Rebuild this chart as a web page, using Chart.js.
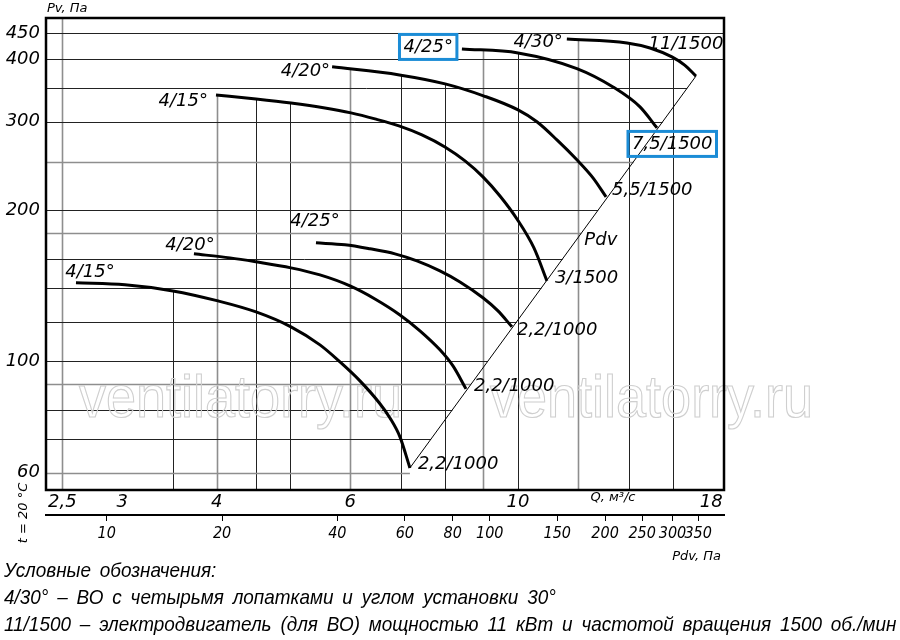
<!DOCTYPE html>
<html>
<head>
<meta charset="utf-8">
<script src="https://cdn.jsdelivr.net/npm/chart.js@4.4.1/dist/chart.umd.min.js"></script>
<style>
  body { margin: 0; background: #fff; }
  #wrap { position: relative; width: 900px; height: 566px; }
  .notes {
    margin-top: -10px;
    font-family: "Liberation Sans", sans-serif;
    font-style: italic;
    font-size: 21px;
    line-height: 27px;
    word-spacing: 4px;
    padding-left: 4px;
    color: #000;
    white-space: nowrap;
  }
  .notes div { transform: scaleX(0.9); transform-origin: 0 0; }
</style>
</head>
<body>
<div id="wrap"><canvas id="fan"></canvas></div>
<div class="notes">
  <div>Условные обозначения:</div>
  <div>4/30° – ВО с четырьмя лопатками и углом установки 30°</div>
  <div>11/1500 – электродвигатель (для ВО) мощностью 11 кВт и частотой вращения 1500 об./мин</div>
</div>
<script>
// axis ticks
const qTicks = [2.5, 3, 4, 6, 10, 18];
const pvTicks = [60, 100, 200, 300, 400, 450];
const pdvTicks = [10, 20, 40, 60, 80, 100, 150, 200, 250, 300, 350];
const qGrid = [2.5, 3.5, 4, 4.5, 5, 6, 7, 8, 9, 10, 12, 14, 16];
const pvGrid = [60, 70, 80, 90, 100, 120, 140, 160, 180, 200, 250, 300, 350, 400, 450];

// fan curves, Q (m3/s) -> Pv (Pa)
const q15Low = [2.606, 3.025, 3.50, 4.014, 4.507, 5.012, 5.474, 5.818, 6.182, 6.570, 6.773, 6.982, 7.197];
const pv15Low = [143.3, 142.0, 138.1, 131.9, 125.4, 117.1, 107.8, 99.7, 91.4, 82.3, 77.1, 70.7, 61.3];
const q20Low = [3.731, 4.164, 4.507, 5.012, 5.474, 5.998, 6.471, 6.982, 7.420, 7.885, 8.204, 8.535];
const pv20Low = [163.7, 160.7, 157.8, 153.5, 148.6, 141.3, 133.1, 123.7, 115.0, 105.4, 97.9, 88.1];
const q25Low = [5.408, 5.907, 6.373, 6.877, 7.352, 7.885, 8.381, 8.987, 9.408, 9.816];
const pv25Low = [172.2, 170.6, 167.5, 163.7, 158.5, 151.4, 143.9, 133.8, 126.0, 117.1];
const q15High = [3.990, 4.507, 5.012, 5.558, 6.016, 6.471, 6.961, 7.465, 8.006, 8.510, 8.987, 9.465, 9.967, 10.495, 10.918];
const pv15High = [339.3, 333.2, 327.1, 319.7, 312.5, 304.0, 294.4, 282.5, 267.3, 250.7, 233.0, 213.5, 192.1, 168.2, 144.6];
const q20High = [5.68, 6.97, 8.01, 9.0, 10.0, 10.59, 11.256, 11.96, 12.56, 13.07];
const pv20High = [386, 372, 357, 338, 316.8, 300, 276.1, 252, 232, 212.6];
const q25High = [8.43, 10.0, 11.96, 13.35, 14.49, 15.26];
const pv25High = [419.1, 411.5, 383, 352, 321.3, 291.7];
const q30High = [11.60, 13.93, 14.94, 15.97, 16.6, 17.18];
const pv30High = [438.7, 430.8, 421, 404, 389, 370];

// dynamic pressure line
const qPdv = [7.197, 17.18];
const pvPdv = [61.3, 370];

const bladeNames = ['4/15°', '4/20°', '4/25°', '4/15°', '4/20°', '4/25°', '4/30°'];
const motorNames = ['2,2/1000', '2,2/1000', '2,2/1000', '3/1500', '5,5/1500', '7,5/1500', '11/1500'];

const curves = [
  { q: q15Low, pv: pv15Low },
  { q: q20Low, pv: pv20Low },
  { q: q25Low, pv: pv25Low },
  { q: q15High, pv: pv15High },
  { q: q20High, pv: pv20High },
  { q: q25High, pv: pv25High },
  { q: q30High, pv: pv30High }
];

// label placement (pixel offsets from curve ends)
const startLayout = [
  { dx: 14, dy: -11, align: 'center' },
  { dx: -4, dy: -9, align: 'center' },
  { dx: -1, dy: -21, align: 'center' },
  { dx: -8, dy: 6, align: 'right' },
  { dx: -2, dy: 4, align: 'right' },
  { dx: -9, dy: -2, align: 'right', box: true },
  { dx: -4, dy: 3, align: 'right' }
];
const endLayout = [
  { dx: 8, dy: -4, align: 'left' },
  { dx: 8, dy: -3, align: 'left' },
  { dx: 5, dy: 3, align: 'left' },
  { dx: 8, dy: -3, align: 'left' },
  { dx: 6, dy: -7, align: 'left' },
  { dx: -25, dy: 16, align: 'left', box: true },
  { dx: -10, dy: -32, align: 'center' }
];
const greyQ = [2.5, 4, 6, 9, 12];
const greyPv = [60, 90, 180, 250];

const labelFont = 'italic 18px "DejaVu Sans"';
const smallFont = 'italic 13px "DejaVu Sans"';
const boxColor = '#1b8cd6';

function logInterp(xs, ys, v) {
  for (let i = 0; i < xs.length - 1; i++) {
    if (v >= xs[i] && v <= xs[i + 1]) {
      const t = (Math.log(v) - Math.log(xs[i])) / (Math.log(xs[i + 1]) - Math.log(xs[i]));
      return Math.exp(Math.log(ys[i]) + t * (Math.log(ys[i + 1]) - Math.log(ys[i])));
    }
  }
  return null;
}

function drawLabel(ctx, text, px, py, lay) {
  ctx.font = labelFont;
  ctx.textBaseline = 'middle';
  const w = ctx.measureText(text).width;
  let left = px + lay.dx;
  if (lay.align === 'right') left -= w;
  if (lay.align === 'center') left -= w / 2;
  const cy = py + lay.dy;
  ctx.textAlign = 'left';
  ctx.fillStyle = '#000';
  ctx.fillText(text, left, cy);
  if (lay.box) {
    ctx.strokeStyle = boxColor;
    ctx.lineWidth = 3;
    ctx.strokeRect(left - 4, cy - 12.5, w + 8, 25);
  }
}

const fanDecor = {
  id: 'fanDecor',
  beforeDatasetsDraw(chart) {
    const { ctx, chartArea: a, scales: { x, y } } = chart;
    ctx.save();

    // vertical grid: from bottom up to the upper curve
    qGrid.forEach(q => {
      let top = null;
      curves.forEach(c => {
        const v = logInterp(c.q, c.pv, q);
        if (v !== null && (top === null || v > top)) top = v;
      });
      const px = Math.round(x.getPixelForValue(q)) + 0.5;
      const py = top === null ? a.top : y.getPixelForValue(top);
      const grey = greyQ.includes(q);
      ctx.strokeStyle = grey ? '#8e8e8e' : '#222';
      ctx.lineWidth = grey ? 1.6 : 1;
      ctx.beginPath();
      ctx.moveTo(px, a.bottom);
      ctx.lineTo(px, py);
      ctx.stroke();
    });

    // horizontal grid: from left border up to the Pdv line
    pvGrid.forEach(pv => {
      let right = a.right;
      if (pv <= pvPdv[pvPdv.length - 1]) {
        const q = pv < pvPdv[0] ? qPdv[0] : logInterp(pvPdv, qPdv, pv);
        right = x.getPixelForValue(q);
      }
      const py = Math.round(y.getPixelForValue(pv)) + 0.5;
      const grey = greyPv.includes(pv);
      ctx.strokeStyle = grey ? '#8e8e8e' : '#222';
      ctx.lineWidth = grey ? 1.6 : 1;
      ctx.beginPath();
      ctx.moveTo(a.left, py);
      ctx.lineTo(right, py);
      ctx.stroke();
    });

    // watermark
    ctx.font = '60px "Liberation Sans"';
    ctx.textBaseline = 'alphabetic';
    ctx.textAlign = 'left';
    ctx.strokeStyle = '#cfcfcf';
    ctx.lineWidth = 1.2;
    [79, 490].forEach(wx => {
      ctx.save();
      ctx.translate(wx, 417);
      ctx.scale(0.9, 1);
      ctx.strokeText('ventilatorry.ru', 0, 0);
      ctx.restore();
    });
    ctx.restore();
  },
  afterDraw(chart) {
    const { ctx, chartArea: a, scales: { x, y } } = chart;
    ctx.save();

    // frame
    ctx.strokeStyle = '#000';
    ctx.lineWidth = 2.5;
    ctx.strokeRect(a.left, a.top, a.right - a.left, a.bottom - a.top);

    // curve labels
    curves.forEach((c, i) => {
      const n = c.q.length - 1;
      drawLabel(ctx, bladeNames[i], x.getPixelForValue(c.q[0]), y.getPixelForValue(c.pv[0]), startLayout[i]);
      drawLabel(ctx, motorNames[i], x.getPixelForValue(c.q[n]), y.getPixelForValue(c.pv[n]), endLayout[i]);
    });

    // Pdv label along the dynamic pressure line
    const x0 = x.getPixelForValue(qPdv[0]), y0 = y.getPixelForValue(pvPdv[0]);
    const x1 = x.getPixelForValue(qPdv[1]), y1 = y.getPixelForValue(pvPdv[1]);
    const t = 0.58;
    ctx.font = labelFont;
    ctx.fillStyle = '#000';
    ctx.textAlign = 'center';
    ctx.textBaseline = 'middle';
    ctx.fillText('Pdv', x0 + t * (x1 - x0) + 25, y0 + t * (y1 - y0));

    // axis titles
    ctx.font = smallFont;
    ctx.textAlign = 'left';
    ctx.fillText('Pv, Па', a.left + 1, 9);
    ctx.textAlign = 'center';
    ctx.fillText('Q, м³/с', 613, 498);
    ctx.textAlign = 'right';
    ctx.fillText('Pdv, Па', a.right - 3, 557);

    ctx.save();
    ctx.translate(24, 513);
    ctx.rotate(-Math.PI / 2);
    ctx.textAlign = 'center';
    ctx.fillText('t = 20 °C', 0, 0);
    ctx.restore();

    ctx.restore();
  }
};

const tickFont = { family: 'DejaVu Sans', size: 18, style: 'italic' };
const pdvFont = { family: 'DejaVu Sans Condensed', size: 16, style: 'italic' };

const datasets = curves.map(c => ({
  data: c.q.map((v, i) => ({ x: v, y: c.pv[i] })),
  borderColor: '#000',
  borderWidth: 3,
  pointRadius: 0,
  fill: false,
  cubicInterpolationMode: 'monotone',
  xAxisID: 'x',
  yAxisID: 'y'
}));
datasets.push({
  data: qPdv.map((v, i) => ({ x: v, y: pvPdv[i] })),
  borderColor: '#000',
  borderWidth: 1,
  pointRadius: 0,
  fill: false,
  tension: 0,
  xAxisID: 'x',
  yAxisID: 'y'
});

const ctx = document.getElementById('fan').getContext('2d');
new Chart(ctx, {
  type: 'line',
  data: { datasets },
  options: {
    responsive: true,
    maintainAspectRatio: false,
    animation: false,
    layout: { padding: { left: 0, top: 18, right: 176, bottom: 0 } },
    plugins: { legend: { display: false }, tooltip: { enabled: false } },
    scales: {
      x: {
        type: 'logarithmic',
        position: 'bottom',
        weight: 0,
        bounds: 'data',
        min: 2.379,
        max: 18.71,
        grid: { display: false, drawTicks: false },
        border: { display: false },
        afterBuildTicks: s => { s.ticks = qTicks.map(v => ({ value: v })); },
        afterFit: s => { s.height = 25; },
        ticks: {
          autoSkip: false,
          maxRotation: 0,
          minRotation: 0,
          padding: 2,
          color: '#000',
          font: tickFont,
          callback: v => String(v).replace('.', ',')
        }
      },
      pdv: {
        type: 'logarithmic',
        position: 'bottom',
        weight: 1,
        bounds: 'data',
        min: 6.94,
        max: 408.8,
        grid: { display: true, drawOnChartArea: false, drawTicks: true, tickLength: 6, color: '#000', lineWidth: 1 },
        border: { display: true, color: '#000', width: 2 },
        afterBuildTicks: s => { s.ticks = pdvTicks.map(v => ({ value: v })); },
        afterFit: s => { s.height = 51; },
        ticks: {
          autoSkip: false,
          maxRotation: 0,
          minRotation: 0,
          padding: 3,
          color: '#000',
          font: pdvFont,
          callback: v => String(v)
        }
      },
      y: {
        type: 'logarithmic',
        position: 'left',
        bounds: 'data',
        min: 55.4,
        max: 483,
        grid: { display: false, drawTicks: false },
        border: { display: false },
        afterBuildTicks: s => { s.ticks = pvTicks.map(v => ({ value: v })); },
        afterFit: s => { s.width = 46; },
        ticks: {
          autoSkip: false,
          padding: 6,
          color: '#000',
          font: tickFont,
          callback: v => String(v)
        }
      }
    }
  },
  plugins: [fanDecor]
});
</script>
</body>
</html>
